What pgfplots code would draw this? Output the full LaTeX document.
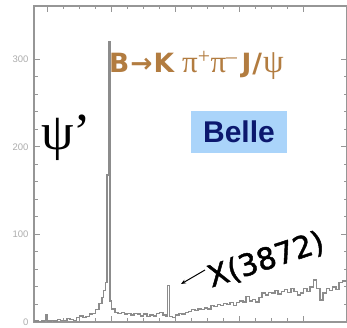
\documentclass[border=0pt]{standalone}
\usepackage{pgfplots}
\pgfplotsset{compat=1.18}
\usepackage{fontspec}
\setmainfont{DejaVu Sans}
\newfontfamily\tms{Liberation Serif}
\newfontfamily\arl{Liberation Sans}
\newfontfamily\xfont{DejaVu Sans}[FakeBold=1.5]
\usetikzlibrary{arrows.meta}
\definecolor{brn}{RGB}{178,124,64}
\definecolor{navy}{RGB}{12,24,110}
\definecolor{lblue}{RGB}{170,212,250}
\definecolor{axc}{RGB}{150,150,150}
\definecolor{histc}{RGB}{140,140,140}
\begin{document}
\begin{tikzpicture}
\useasboundingbox (0pt,0pt) rectangle (347pt,328pt);
\begin{axis}[at={(34pt,6pt)}, anchor=south west, scale only axis,
  width=313pt, height=316pt,
  xmin=0.357, xmax=1.335, ymin=0, ymax=361,
  xtick={0.4,0.6,0.8,1.0,1.2}, xticklabels={},
  ytick={0,100,200,300},
  minor x tick num=3, minor y tick num=4,
  axis line style={axc, line width=1.5pt},
  tick style={axc, line width=1pt},
  major tick length=6pt, minor tick length=3.5pt,
  tick label style={font=\arl\fontsize{9.5}{9.5}\selectfont, text=gray!65},
  /pgf/number format/assume math mode=true,
  yticklabel style={xshift=-2pt}]
\addplot[const plot, draw=histc, line width=1.4pt] coordinates {
(0.357,1) (0.36,1) (0.37,0) (0.38,1) (0.39,2) (0.395,8) (0.40,1) (0.41,2)
(0.42,1) (0.43,3) (0.44,2) (0.45,2) (0.46,4) (0.47,3) (0.48,2) (0.49,5)
(0.50,7) (0.51,5) (0.52,6) (0.53,9) (0.54,10) (0.55,14) (0.56,21) (0.57,28)
(0.575,36) (0.58,45) (0.585,168) (0.59,320) (0.595,24) (0.60,15) (0.61,11)
(0.62,10) (0.63,11) (0.64,9) (0.65,10) (0.66,8) (0.67,10) (0.68,9) (0.69,7)
(0.70,9) (0.71,6) (0.72,8) (0.73,7) (0.74,10) (0.75,11) (0.76,8) (0.77,6)
(0.775,42) (0.78,6) (0.79,5) (0.80,8) (0.81,10) (0.82,9) (0.83,11) (0.84,12)
(0.85,14) (0.86,13) (0.87,15) (0.88,14) (0.89,16) (0.90,15) (0.91,19)
(0.92,18) (0.93,20) (0.94,19) (0.95,21) (0.96,20) (0.97,22) (0.98,19)
(0.99,22) (1.00,24) (1.01,23) (1.02,29) (1.03,24) (1.04,26) (1.05,23)
(1.06,28) (1.07,33) (1.08,31) (1.09,34) (1.10,33) (1.11,36) (1.12,32)
(1.13,35) (1.14,37) (1.15,34) (1.16,38) (1.17,35) (1.18,31) (1.19,33)
(1.20,38) (1.21,35) (1.22,40) (1.23,48) (1.24,38) (1.25,25) (1.26,33)
(1.27,38) (1.28,36) (1.29,40) (1.30,37) (1.31,45) (1.32,47) (1.335,47)
};
\end{axis}
\node[font=\tms\fontsize{52}{52}\selectfont] at (66pt,190pt) {ψ’};
\node[anchor=base west, inner sep=0pt, text=brn, font=\fontsize{26.5}{26.5}\selectfont\bfseries] at (109pt,255pt)
  {B\kern1pt→\kern1ptK\hspace{8pt}{\tms\mdseries\fontsize{31}{31}\selectfont π\textsuperscript{+}π\textsuperscript{–}}\hspace{4pt}J\kern1pt/\kern1pt{\tms\mdseries\fontsize{33}{33}\selectfont ψ}};
\node[fill=lblue, minimum width=96pt, minimum height=42pt, inner sep=0pt, text=navy,
  font=\arl\bfseries\fontsize{30}{30}\selectfont] at (239pt,196pt) {Belle};
\node[rotate=18, font=\xfont\fontsize{30}{30}\selectfont] at (266pt,68pt) {X(3872)};
\draw[-{Stealth[length=5pt,width=4pt]}, line width=1pt] (205pt,58pt) -- (181pt,44pt);
\end{tikzpicture}
\end{document}
